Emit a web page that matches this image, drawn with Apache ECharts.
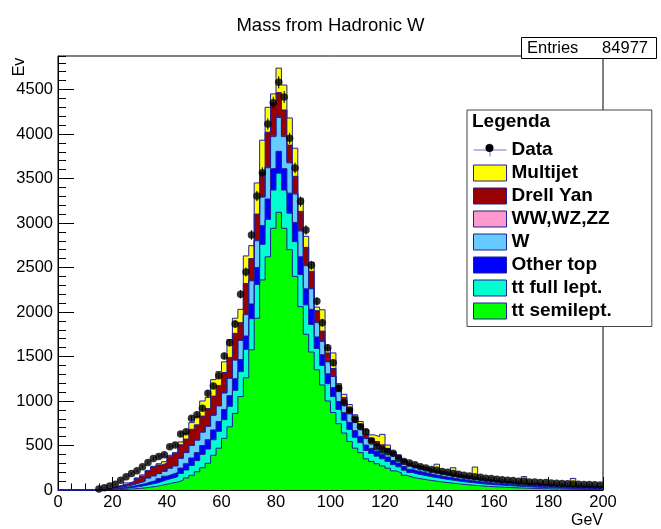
<!DOCTYPE html>
<html><head><meta charset="utf-8">
<script src="https://cdn.jsdelivr.net/npm/echarts@6/dist/echarts.min.js"></script>
<style>html,body{margin:0;padding:0;background:#fff}#c{width:661px;height:529px}</style>
</head><body><div id="c"></div>
<script>
// ---- binning (2 GeV bins from 0 to 200) ----
const binWidth = 2;
const xMin = 0, xMax = 200;
const xTickStep = 20;
const yTickStep = 500;

// ---- data (events per bin) ----
const dataCounts = [0,0,0,0,0,0,0,12,25,45, 65,110,150,185,215,260,310,355,375,395, 485,505,630,655,805,845,918,1086,1168,1285, 1506,1655,1865,2199,2449,2865,3303,3565,4112,4352, 4580,4416,3951,3618,3240,2921,2524,2120,1880,1599, 1431,1146,981,899,798,712,655,551,487,449, 430,412,356,320,302,283,262,248,231,222, 209,199,185,178,165,158,148,143,133,128, 120,116,109,106,99,97,91,89,84,83, 78,77,72,71,67,66,62,61,58,57];

// ---- MC components (stacked, bottom to top) ----
const ttSemilept = [0,0,0,0,0,0,0,0,0,2, 4,6,9,13,18,24,32,40,52,65, 78,90,110,135,165,205,250,300,390,470, 580,710,860,1050,1260,1575,1930,2360,2620,2940, 3120,2940,2700,2400,2060,1750,1550,1350,1180,1000, 870,745,640,545,470,420,350,320,295,270, 245,215,195,165,145,132,122,112,103,95, 87,80,73,66,60,55,50,45,41,37, 34,31,28,25,23,21,19,17,15,14, 12,11,10,9,8,7,6,5,5,4];
const ttFullLept = [0,0,0,0,0,0,0,0,2,4, 8,11,14,18,22,26,32,36,42,50, 54,60,76,90,110,125,150,160,175,190, 210,230,260,280,320,350,380,400,420,430, 440,430,410,390,360,330,310,240,220,195, 180,160,145,135,122,112,95,90,85,80, 75,70,65,58,52,48,46,44,41,39, 37,35,33,31,30,28,27,25,24,23, 22,21,20,19,18,17,16,15,14,13, 12,11,10,9,8,8,7,7,6,6];
const otherTop = [0,0,0,0,0,0,0,0,2,3, 6,9,11,14,18,21,26,29,34,40, 44,47,60,70,85,90,100,105,110,110, 115,120,130,135,150,165,190,210,230,240, 245,240,225,215,200,180,170,130,120,110, 100,90,85,80,75,70,60,57,55,52, 50,46,43,40,36,34,33,31,30,28, 27,26,25,24,23,22,21,20,19,19, 18,17,17,16,16,15,15,14,14,14, 13,13,13,12,12,12,12,11,11,11];
const wJets = [0,0,0,0,0,0,0,0,2,4, 9,12,15,19,24,28,45,54,56,55, 70,74,110,125,140,140,150,150,165,175, 185,195,210,215,240,260,300,320,350,360, 380,360,340,320,290,260,230,160,150,135, 125,110,100,95,90,85,72,68,65,62, 58,52,48,43,38,35,34,32,30,28, 26,24,23,22,21,20,19,18,17,16, 15,14,14,13,13,12,12,11,11,10, 10,10,9,9,9,8,8,8,8,7];
const diboson = [0,0,0,0,0,0,0,0,0,0, 0,0,0,0,0,1,1,1,1,1, 1,1,2,2,2,2,3,3,3,4, 4,4,5,5,6,6,7,8,8,9, 9,9,8,8,7,6,6,5,5,5, 5,4,4,4,3,3,3,3,3,3, 2,2,2,2,2,1,1,1,1,1, 1,1,1,1,1,1,1,1,1,1, 1,1,0,0,0,0,0,0,0,0, 0,0,0,0,0,0,0,0,0,0];
const drellYan = [0,0,0,0,0,0,0,0,2,7, 13,18,21,27,48,57,77,98,97,89, 133,139,150,150,180,170,177,197,212,226, 226,231,295,195,344,244,293,272,392,371, 271,291,192,192,213,200,190,130,110,95, 85,70,65,60,55,50,47,45,42,40, 38,35,32,28,25,24,23,22,20,19, 18,17,16,15,14,13,12,12,11,11, 10,10,10,10,10,9,9,9,8,8, 8,8,7,7,7,7,7,6,6,6];
const multijet = [0,0,0,0,0,0,0,0,0,0, 0,0,10,3,5,13,7,8,13,18, 10,9,32,66,75,95,170,125,185,155, 120,200,170,150,310,145,350,360,280,100, 275,280,305,315,150,124,104,40,240,55, 175,16,36,41,30,30,48,37,55,118, 37,10,10,4,2,1,3,3,3,80, 4,4,79,7,7,8,128,5,4,5, 4,5,4,4,5,76,4,5,4,5, 4,5,4,5,86,4,5,4,5,4];

const layerNames  = ['tt semilept.','tt full lept.','Other top','W','WW,WZ,ZZ','Drell Yan','Multijet'];
const layerValues = [ttSemilept, ttFullLept, otherTop, wJets, diboson, drellYan, multijet];
const layerColors = ['#00ff00','#00ffcc','#0000ff','#66ccff','#ff99cc','#990000','#ffff00'];
const outline = '#1f1f9a';
const FONT = "'Liberation Sans', Arial, Helvetica, sans-serif";

// cumulative stacks
const nBins = dataCounts.length;
const cum = [];
let run = new Array(nBins).fill(0);
layerValues.forEach(arr => { run = run.map((v, i) => v + arr[i]); cum.push(run.slice()); });

const series = [];
for (let k = layerValues.length - 1; k >= 0; k--) {
  const pts = [];
  for (let i = 0; i < nBins; i++) pts.push([xMin + i * binWidth, cum[k][i]]);
  pts.push([xMin + nBins * binWidth, cum[k][nBins - 1]]);
  series.push({
    name: layerNames[k], type: 'line', step: 'end', data: pts,
    symbol: 'none', color: layerColors[k],
    lineStyle: { color: outline, width: 1 },
    areaStyle: { color: layerColors[k], opacity: 1 },
    itemStyle: { color: layerColors[k] },
    animation: false, z: 2
  });
}
const dataPts = [];
for (let i = 0; i < nBins; i++) if (dataCounts[i] > 0) dataPts.push([xMin + (i + 0.5) * binWidth, dataCounts[i]]);

series.push({
  type: 'custom', silent: true, z: 9, animation: false,
  data: dataPts.map(p => [p[0], p[1], Math.sqrt(p[1])]),
  renderItem: (params, api) => {
    const x = api.value(0), y = api.value(1), e = api.value(2);
    const a = api.coord([x, y - e]), b = api.coord([x, y + e]);
    return { type: 'line', shape: { x1: a[0], y1: a[1], x2: b[0], y2: b[1] }, style: { stroke: '#000', lineWidth: 1 } };
  }
});
series.push({
  name: 'Data', type: 'scatter', data: dataPts, symbol: 'circle', symbolSize: 7.5,
  itemStyle: { color: '#000' }, z: 10, animation: false
});

const yMax = 4876;
const option = {
  animation: false,
  title: { text: 'Mass from Hadronic W', left: 'center', top: 11,
    textStyle: { fontFamily: FONT, fontSize: 18.5, fontWeight: 'normal', color: '#000' } },
  grid: { left: 58, right: 58, top: 56, bottom: 39, show: true, borderColor: '#000', borderWidth: 1, backgroundColor: 'transparent' },
  xAxis: [{
    type: 'value', min: xMin, max: xMax, interval: xTickStep,
    axisLine: { show: true, onZero: false, lineStyle: { color: '#000' } },
    axisTick: { show: true, inside: true, length: 13, lineStyle: { color: '#000' } },
    minorTick: { show: true, splitNumber: 4, length: 6.5, lineStyle: { color: '#000' } },
    axisLabel: { margin: 4, fontSize: 16.5, fontFamily: FONT, color: '#000', formatter: v => String(v) },
    splitLine: { show: false }
  }],
  yAxis: [{
    type: 'value', min: 0, max: yMax, interval: yTickStep,
    axisLine: { show: true, onZero: false, lineStyle: { color: '#000' } },
    axisTick: { show: true, inside: true, length: 16, lineStyle: { color: '#000' } },
    axisLabel: { margin: 5, fontSize: 16.5, fontFamily: FONT, color: '#000', showMaxLabel: false, formatter: v => String(v) },
    splitLine: { show: false }
  }, {
    type: 'value', min: 0, max: yMax, interval: 100, position: 'left',
    axisLine: { show: false },
    axisTick: { show: true, inside: true, length: 8, lineStyle: { color: '#000' } },
    axisLabel: { show: false }, splitLine: { show: false }
  }],
  legend: {
    orient: 'vertical', left: 467, top: 110,
    padding: [30.5, 40, 6, 6],
    itemWidth: 33, itemHeight: 16, itemGap: 4,
    backgroundColor: '#fff', borderColor: '#444', borderWidth: 1,
    textStyle: { fontFamily: FONT, fontSize: 19, fontWeight: 'bold', color: '#000' },
    icon: 'rect',
    itemStyle: { borderColor: outline, borderWidth: 1 },
    data: [
      { name: 'Data', icon: 'path://M0,7.5h33v1h-33z M16,1.5h1v13h-1z', itemStyle: { color: '#5050c8', borderWidth: 0 } },
      'Multijet', 'Drell Yan', 'WW,WZ,ZZ', 'W', 'Other top', 'tt full lept.', 'tt semilept.'
    ],
    selectedMode: false
  },
  graphic: [
    { type: 'text', x: 472, y: 122, z: 100, style: { text: 'Legenda', font: 'bold 19px ' + FONT, fill: '#000', verticalAlign: 'middle' } },
    { type: 'circle', shape: { cx: 489.5, cy: 148, r: 4 }, style: { fill: '#000' }, z: 100 },
    { type: 'rect', shape: { x: 521.5, y: 37.5, width: 135, height: 21 }, style: { fill: '#fff', stroke: '#000', lineWidth: 1 }, z: 100 },
    { type: 'text', x: 527, y: 48, z: 101, style: { text: 'Entries', font: '16.5px ' + FONT, fill: '#000', verticalAlign: 'middle' } },
    { type: 'text', x: 648, y: 48, z: 101, style: { text: '84977', font: '16.5px ' + FONT, fill: '#000', align: 'right', verticalAlign: 'middle' } },
    { type: 'text', x: 20, y: 67, rotation: Math.PI / 2, z: 101, style: { text: 'Ev', font: '16px ' + FONT, fill: '#000', align: 'center', verticalAlign: 'middle' } },
    { type: 'text', x: 603, y: 521, z: 101, style: { text: 'GeV', font: '16px ' + FONT, fill: '#000', align: 'right', verticalAlign: 'middle' } }
  ],
  series: series
};
const chart = echarts.init(document.getElementById('c'), null, { renderer: 'canvas' });
chart.setOption(option);
</script></body></html>
